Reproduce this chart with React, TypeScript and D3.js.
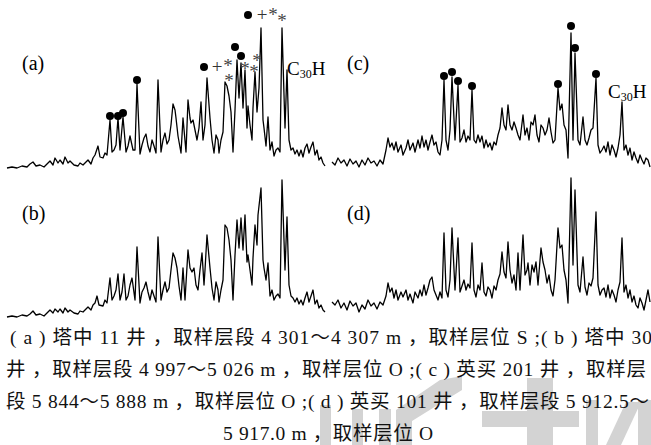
import React, { useEffect, useRef } from 'react';
import * as d3 from 'd3';

// retention position (0-318) and response
const traceA: [number, number][] = [
  [0,2],[5,3],[10,2],[15,4],[20,3],[23,6],[26,8],[29,4],[33,5],[37,3],[41,7],[43,9],[46,5],[48,12],[51,7],[53,10],[56,6],[58,13],[61,7],[63,9],[67,5],[71,4],[73,7],[76,5],[79,8],[81,10],[84,6],[86,12],[88,15],[91,24],[93,13],[96,12],[98,17],[100,15],
  [103,50],[105,18],[107,20],[109,25],[111,52],[113,20],[116,53],[119,18],[121,24],[123,34],[126,20],[128,20],[130,86],[133,16],[135,25],[137,32],[139,36],[141,24],[143,18],[145,30],[147,24],[149,17],
  [151,90],[154,18],[156,30],[158,37],[160,26],[162,30],[164,45],[166,66],[168,60],[169,52],[171,34],[174,17],[176,52],[179,18],[181,70],[183,52],[184,47],[186,50],[188,40],[190,30],[192,42],[194,68],[196,30],[198,45],
  [200,92],[203,52],[205,30],[207,17],[209,35],[211,30],[212,17],[214,30],[216,38],[218,88],[220,84],[222,74],[224,58],[226,18],[228,60],[230,110],[232,72],[234,107],[236,62],[238,100],[240,42],[241,64],[243,45],[245,30],[246,62],[248,98],[250,58],[252,82],
  [254,142],[256,50],[257,42],[259,24],[261,53],[263,20],[265,28],[267,14],[269,20],[271,22],[273,18],[275,142],[278,42],[280,100],[282,30],[284,20],[286,22],[288,16],[290,20],[292,14],[294,20],[296,13],[298,22],[300,26],[302,17],[304,23],[306,28],[308,15],[310,20],[312,10],[314,13],[316,7],[318,4]
];

const traceB: [number, number][] = [
  [0,3],[5,4],[10,3],[15,5],[20,4],[23,6],[26,9],[29,5],[33,6],[37,4],[41,8],[43,10],[46,7],[48,11],[51,8],[53,11],[56,7],[58,12],[61,8],[63,10],[67,7],[71,6],[73,9],[76,8],[79,11],[81,13],[84,10],[86,15],[88,17],[90,24],[92,15],[96,14],[98,20],[100,17],
  [103,42],[105,20],[107,24],[109,30],[111,46],[113,20],[115,28],[117,46],[119,20],[121,24],[123,35],[125,42],[128,20],[130,73],[133,17],[135,28],[137,32],[139,38],[141,28],[143,20],[145,30],[147,24],[149,18],
  [151,83],[154,20],[156,30],[158,38],[160,28],[162,32],[164,50],[166,67],[168,62],[170,52],[172,34],[174,20],[176,52],[178,20],[181,70],[183,52],[185,48],[187,52],[189,35],[191,30],[193,50],[195,67],[197,35],[198,50],
  [200,85],[203,52],[205,32],[207,20],[209,38],[211,30],[212,18],[214,30],[216,40],[218,95],[220,92],[222,80],[224,60],[226,20],[228,65],[230,100],[232,72],[234,102],[236,70],[238,105],[240,58],[241,65],[243,50],[245,35],[246,62],[248,95],[250,75],[251,105],
  [254,132],[256,60],[257,52],[259,40],[261,57],[263,24],[265,30],[267,20],[269,24],[271,26],[273,22],[275,140],[278,50],[280,103],[282,35],[284,24],[286,22],[288,18],[290,22],[292,16],[294,20],[296,15],[298,22],[300,28],[302,18],[304,24],[306,30],[308,16],[310,20],[312,12],[314,15],[316,10],[318,8]
];

const traceC: [number, number][] = [
  [0,8],[3,5],[6,12],[9,7],[12,10],[15,4],[18,11],[21,6],[24,9],[27,3],[30,10],[33,5],[36,12],[39,7],[42,9],[45,4],[48,10],[51,6],[54,20],[56,32],[58,23],[60,27],[62,20],[64,28],[66,18],[69,25],[71,15],[74,22],[76,30],[78,20],[81,27],[83,18],[86,30],[88,22],[90,34],[92,23],[94,30],[96,20],[98,28],[100,35],[102,25],[104,28],[106,18],[108,15],[110,30],
  [112,90],[114,30],[116,20],[118,40],[120,93],[123,30],[126,85],[128,28],[130,32],[132,40],[134,28],[136,34],[138,30],[140,80],[142,30],[144,27],[146,35],[148,28],[150,34],[152,22],[154,30],[156,23],[158,27],[160,20],[162,28],[164,25],[166,35],[168,42],
  [170,62],[172,45],[174,40],[176,65],[178,45],[180,40],[182,48],[184,42],[186,35],[188,30],[191,55],[193,35],[195,42],[197,30],[199,48],[201,45],[203,55],[205,35],[207,28],[209,45],[211,42],[213,35],[215,40],[217,52],[219,38],[221,27],[223,30],
  [226,82],[228,60],[230,66],[232,45],[234,40],[236,12],[239,137],[241,30],[243,117],[246,30],[248,25],[251,53],[253,30],[255,25],[257,32],[259,40],[261,42],[264,92],[266,25],[268,17],[270,20],[272,24],[274,18],[276,28],[278,15],[280,25],[282,20],[284,13],[286,22],[288,35],
  [290,68],[292,20],[294,25],[296,15],[298,22],[300,10],[302,18],[304,12],[306,7],[308,15],[310,10],[312,6],[314,12],[316,10],[318,3]
];

const traceD: [number, number][] = [
  [0,18],[3,15],[6,20],[9,12],[12,17],[15,10],[18,19],[21,14],[24,17],[27,8],[30,15],[33,11],[36,20],[39,14],[42,17],[45,11],[48,18],[51,15],[54,24],[56,37],[58,28],[60,32],[62,22],[64,30],[66,20],[69,28],[71,23],[74,30],[76,20],[78,26],[81,17],[83,28],[86,22],[88,30],[90,24],[92,35],[94,25],[96,32],[98,40],[100,43],[102,30],[104,25],[106,20],[108,28],[110,22],
  [112,87],[114,30],[116,23],[118,40],[120,92],[123,30],[126,82],[128,28],[130,34],[132,40],[134,30],[136,36],[138,32],[140,77],[142,30],[144,23],[146,35],[148,30],[150,57],[152,28],[154,24],[156,33],[158,30],[160,22],[162,34],[164,30],[166,40],[168,46],
  [170,68],[172,48],[174,42],[176,78],[178,50],[180,37],[182,45],[184,30],[186,67],[188,30],[191,85],[193,45],[195,50],[196,57],[198,35],[200,55],[202,48],[204,58],[206,35],[209,72],[211,58],[213,50],[215,37],[217,45],[219,30],[221,24],[223,40],
  [226,92],[228,72],[230,75],[232,50],[234,40],[236,17],[239,142],[241,55],[243,130],[246,35],[248,28],[251,63],[253,33],[255,25],[257,37],[259,34],[261,42],[264,108],[266,35],[268,25],[270,30],[272,32],[274,23],[276,35],[278,22],[280,30],[282,25],[284,18],[286,30],[288,38],
  [290,82],[292,28],[294,35],[296,22],[298,30],[300,18],[302,24],[304,15],[306,12],[308,22],[310,17],[312,10],[314,20],[316,30],[318,18]
];

// peak marks
const dotsA: [number, number][] = [[103,54],[111,54],[116,57],[130,90],[197,103],[228,123],[234,114],[241,155]];
const plusA: [number, number][] = [[210,103],[255,155]];
const starsA: [number, number][] = [[221,107],[222,92],[238,104],[247,101],[250,112],[266,158],[275,152]];
const dotsC: [number, number][] = [[112,94],[120,98],[126,89],[140,84],[226,86],[239,144],[243,122],[264,96]];

const panelLabels = ['(a)', '(b)', '(c)', '(d)'];

const captionLines = [
  '( a ) 塔中 11 井 ，取样层段 4 301～4 307 m ，取样层位 S ;( b ) 塔中 30',
  '井 ，取样层段 4 997～5 026 m ，取样层位 O ;( c ) 英买 201 井 ，取样层',
  '段 5 844～5 888 m ，取样层位 O ;( d ) 英买 101 井 ，取样层段 5 912.5～',
  '5 917.0 m ，取样层位 O'
];

// faint watermark in the lower right of the scan
const watermark = [
  [[320,405],[331,405],[331,445],[320,445]],
  [[352,409],[363,409],[363,445],[352,445]],
  [[379,409],[391,409],[391,445],[379,445]],
  [[396,410],[440,380],[462,376],[462,390],[412,421],[412,445],[396,445]],
  [[527,378],[553,378],[553,445],[527,445]],
  [[482,411],[579,411],[579,427],[482,427]],
  [[586,400],[598,400],[598,445],[586,445]],
  [[606,445],[621,445],[641,402],[626,402]],
  [[638,400],[651,400],[651,445],[638,445]]
];

export default function App() {
  const svgRef = useRef<SVGSVGElement>(null);

  useEffect(() => {
    const svg = d3.select(svgRef.current);
    svg.selectAll('*').remove();

    const serif = '"Liberation Serif", "Times New Roman", serif';
    const cjk = '"Liberation Serif", "Noto Sans CJK SC", serif';

    // watermark
    svg.append('g')
      .selectAll('polygon')
      .data(watermark)
      .enter()
      .append('polygon')
      .attr('points', d => d.map(p => p.join(',')).join(' '))
      .attr('fill', '#d3d3d3');

    const xLeft = d3.scaleLinear().domain([0, 318]).range([7, 325]);
    const xRight = d3.scaleLinear().domain([0, 318]).range([332, 650]);
    const yTop = d3.scaleLinear().domain([0, 150]).range([170, 20]);
    const yBottom = d3.scaleLinear().domain([0, 150]).range([320, 170]);

    const panels = [
      { data: traceA, x: xLeft, y: yTop },
      { data: traceB, x: xLeft, y: yBottom },
      { data: traceC, x: xRight, y: yTop },
      { data: traceD, x: xRight, y: yBottom }
    ];

    panels.forEach((p, i) => {
      const line = d3.line<[number, number]>()
        .x(d => p.x(d[0]))
        .y(d => p.y(d[1]));

      svg.append('path')
        .datum(p.data)
        .attr('d', line)
        .attr('fill', 'none')
        .attr('stroke', '#000')
        .attr('stroke-width', 1.3)
        .attr('stroke-linejoin', 'round');

      svg.append('text')
        .attr('x', p.x(15))
        .attr('y', p.y(100))
        .style('font-family', serif)
        .style('font-size', '20px')
        .text(panelLabels[i]);
    });

    // peak markers
    const marks = (data: [number, number][], x: d3.ScaleLinear<number, number>, y: d3.ScaleLinear<number, number>) => {
      svg.append('g')
        .selectAll('circle')
        .data(data)
        .enter()
        .append('circle')
        .attr('cx', d => x(d[0]))
        .attr('cy', d => y(d[1]))
        .attr('r', 4)
        .attr('fill', '#000');
    };
    marks(dotsA, xLeft, yTop);
    marks(dotsC, xRight, yTop);

    svg.append('g')
      .selectAll('text')
      .data(plusA)
      .enter()
      .append('text')
      .attr('x', d => xLeft(d[0]))
      .attr('y', d => yTop(d[1]) + 6)
      .attr('text-anchor', 'middle')
      .style('font-family', serif)
      .style('font-size', '19px')
      .attr('fill', '#333')
      .text('+');

    svg.append('g')
      .selectAll('text')
      .data(starsA)
      .enter()
      .append('text')
      .attr('x', d => xLeft(d[0]))
      .attr('y', d => yTop(d[1]) + 9)
      .attr('text-anchor', 'middle')
      .style('font-family', serif)
      .style('font-size', '19px')
      .attr('fill', '#444')
      .text('*');

    // C30H labels
    const c30 = [
      { x: xLeft(280), y: yTop(95) },
      { x: xRight(276), y: yTop(72) }
    ];
    c30.forEach(c => {
      const t = svg.append('text')
        .attr('x', c.x)
        .attr('y', c.y)
        .style('font-family', serif)
        .style('font-size', '19px');
      t.append('tspan').text('C');
      t.append('tspan').attr('dy', 3).style('font-size', '12px').text('30');
      t.append('tspan').attr('dy', -3).text('H');
    });

    // caption
    const capX = [10, 6, 6, 328];
    const capLen = [642, 640, 643, 210];
    svg.append('g')
      .selectAll('text')
      .data(captionLines)
      .enter()
      .append('text')
      .attr('x', (d, i) => capX[i])
      .attr('y', (d, i) => 344 + i * 32)
      .attr('text-anchor', (d, i) => (i === 3 ? 'middle' : 'start'))
      .attr('textLength', (d, i) => capLen[i])
      .attr('lengthAdjust', 'spacing')
      .style('font-family', cjk)
      .style('font-size', '19.5px')
      .attr('fill', '#111')
      .text(d => d);
  }, []);

  return (
    <div>
      <svg ref={svgRef} width={651} height={445}
        style={{ position: 'absolute', left: 0, top: 0, background: '#fff' }} />
    </div>
  );
}
